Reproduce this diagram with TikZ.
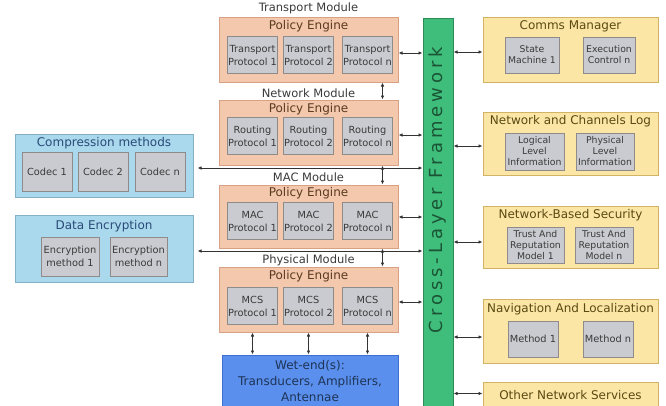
\documentclass[tikz,border=0pt]{standalone}
\usepackage{fontspec}
\setmainfont{DejaVu Sans}
\newfontfamily\clffont[LetterSpace=22]{DejaVu Sans}
\usepackage{tikz}
\usetikzlibrary{arrows.meta, positioning, calc}
\definecolor{modulefill}{HTML}{F4C8AD}
\definecolor{moduleline}{HTML}{D9A184}
\definecolor{protofill}{HTML}{CACBD0}
\definecolor{protoline}{HTML}{8E8B8A}
\definecolor{toolfill}{HTML}{AAD8EC}
\definecolor{toolline}{HTML}{84B0C8}
\definecolor{servicefill}{HTML}{FCE6A6}
\definecolor{serviceline}{HTML}{D2B265}
\definecolor{clfgreen}{HTML}{3FBE7B}
\definecolor{clfline}{HTML}{2C8C58}
\definecolor{wetblue}{HTML}{5B8FEE}
\definecolor{wetline}{HTML}{3E6ECF}
\definecolor{linkgray}{HTML}{333333}
\definecolor{labeltext}{HTML}{3A3A3A}
\definecolor{enginetext}{HTML}{5A3A20}
\definecolor{tooltext}{HTML}{2A4A78}
\definecolor{servicetext}{HTML}{5A4A12}
\tikzstyle{module} = [draw=moduleline, fill=modulefill, line width=1pt, minimum width=179pt, minimum height=65pt, inner sep=0pt]
\tikzstyle{proto} = [draw=protoline, fill=protofill, line width=1pt, minimum width=50pt, minimum height=37pt, inner sep=0pt, align=center, text=labeltext, font=\fontsize{9.8}{13}\selectfont]
\tikzstyle{toolbox} = [draw=toolline, fill=toolfill, line width=1pt, minimum width=178pt, inner sep=0pt]
\tikzstyle{service} = [draw=serviceline, fill=servicefill, line width=1pt, minimum width=175pt, inner sep=0pt]
\tikzstyle{infobox} = [draw=protoline, fill=protofill, line width=1pt, minimum height=36pt, inner sep=0pt, align=center, text=labeltext, font=\fontsize{9.3}{11}\selectfont]
\tikzstyle{biarrow} = [{Latex[length=4pt,width=3.5pt]}-{Latex[length=4pt,width=3.5pt]}, line width=0.9pt, color=linkgray]

\begin{document}
\begin{tikzpicture}[x=1pt, y=-1pt, every node/.style={font=\fontsize{12}{14}\selectfont}]
    \useasboundingbox (0,0) rectangle (666,405);

    % protocol stack
    \node[module] (tm) at (308.5,49.5) {};
    \node[text=labeltext, font=\fontsize{11.5}{13}\selectfont] (tmlabel) at (308.5,8) {Transport Module};
    \node[text=enginetext] (tmpe) at (308.5,26) {Policy Engine};
    \node[proto] (tp1) at (252.5,55) {Transport\\Protocol 1};
    \node[proto] (tp2) at (308.5,55) {Transport\\Protocol 2};
    \node[proto] (tp3) at (367.5,55) {Transport\\Protocol n};

    \node[module] (nm) at (308.5,132.5) {};
    \node[text=labeltext, font=\fontsize{11.5}{13}\selectfont] (nmlabel) at (308.5,93) {Network Module};
    \node[text=enginetext] (nmpe) at (308.5,109) {Policy Engine};
    \node[proto] (np1) at (252.5,136) {Routing\\Protocol 1};
    \node[proto] (np2) at (308.5,136) {Routing\\Protocol 2};
    \node[proto] (np3) at (367.5,136) {Routing\\Protocol n};

    \node[module, minimum height=63pt] (mm) at (308.5,216.5) {};
    \node[text=labeltext, font=\fontsize{11.5}{13}\selectfont] (mmlabel) at (308.5,177) {MAC Module};
    \node[text=enginetext] (mmpe) at (308.5,193) {Policy Engine};
    \node[proto] (mp1) at (252.5,221) {MAC\\Protocol 1};
    \node[proto] (mp2) at (308.5,221) {MAC\\Protocol 2};
    \node[proto] (mp3) at (367.5,221) {MAC\\Protocol n};

    \node[module] (pm) at (308.5,299.5) {};
    \node[text=labeltext, font=\fontsize{11.5}{13}\selectfont] (pmlabel) at (308.5,260) {Physical Module};
    \node[text=enginetext] (pmpe) at (308.5,276) {Policy Engine};
    \node[proto] (pp1) at (252.5,306) {MCS\\Protocol 1};
    \node[proto] (pp2) at (308.5,306) {MCS\\Protocol 2};
    \node[proto] (pp3) at (367.5,306) {MCS\\Protocol n};

    \node[draw=wetline, fill=wetblue, line width=1pt, minimum width=176pt, minimum height=53pt, inner sep=0pt, align=center, text=tooltext!70!black, font=\fontsize{12}{16}\selectfont] (we) at (310,381.5) {Wet-end(s):\\Transducers, Amplifiers,\\Antennae};

    % cross-layer framework
    \node[draw=clfline, fill=clfgreen, line width=1pt, minimum width=30pt, minimum height=390pt, inner sep=0pt] (clf) at (438,213) {};
    \node[rotate=90, text=clfline!60!black, font=\clffont\fontsize{18}{20}\selectfont] (clftext) at (438,190) {Cross-Layer Framework};

    % left side
    \node[toolbox, minimum height=63pt] (cmp) at (104,165.5) {};
    \node[text=tooltext] (cmptitle) at (104,143) {Compression methods};
    \node[proto, minimum height=39pt] (cd1) at (47,171.5) {Codec 1};
    \node[proto, minimum height=39pt] (cd2) at (103,171.5) {Codec 2};
    \node[proto, minimum height=39pt] (cd3) at (160,171.5) {Codec n};

    \node[toolbox, minimum height=67pt] (enc) at (104,248.5) {};
    \node[text=tooltext] (enctitle) at (104,226) {Data Encryption};
    \node[proto, minimum width=58pt, minimum height=39pt] (em1) at (70,256.5) {Encryption\\method 1};
    \node[proto, minimum width=57pt, minimum height=39pt] (em2) at (138.5,256.5) {Encryption\\method n};

    % right side
    \node[service, minimum height=65pt] (cm) at (570.5,49.5) {};
    \node[text=servicetext] (cmtitle) at (570.5,26) {Comms Manager};
    \node[infobox, minimum width=54pt] (sm) at (532,55) {State\\Machine 1};
    \node[infobox, minimum width=52pt] (ec) at (609,55) {Execution\\Control n};

    \node[service, minimum height=63pt] (ncl) at (570.5,143.5) {};
    \node[text=servicetext] (ncltitle) at (570.5,121) {Network and Channels Log};
    \node[infobox, minimum width=59pt, minimum height=37pt] (lli) at (534.5,151.5) {Logical\\Level\\Information};
    \node[infobox, minimum width=58pt, minimum height=37pt] (pli) at (605,151.5) {Physical\\Level\\Information};

    \node[service, minimum height=62pt] (nbs) at (570.5,237) {};
    \node[text=servicetext] (nbstitle) at (570.5,215) {Network-Based Security};
    \node[infobox, minimum width=57pt] (tr1) at (535.5,245) {Trust And\\Reputation\\Model 1};
    \node[infobox, minimum width=58pt] (trn) at (604,245) {Trust And\\Reputation\\Model n};

    \node[service, minimum height=64pt] (nal) at (570.5,331) {};
    \node[text=servicetext] (naltitle) at (570.5,309) {Navigation And Localization};
    \node[infobox, minimum width=50pt, font=\fontsize{9.8}{11}\selectfont] (mt1) at (533,339) {Method 1};
    \node[infobox, minimum width=50pt, font=\fontsize{9.8}{11}\selectfont] (mtn) at (608,339) {Method n};

    \node[service, minimum height=26pt, text=servicetext] (ons) at (570.5,395) {Other Network Services};

    % links
    \draw[biarrow] ([xshift=-16pt]tm.south east) -- ([xshift=-16pt]nm.north east);
    \draw[biarrow] ([xshift=-16pt]nm.south east) -- ([xshift=-16pt]mm.north east);
    \draw[biarrow] ([xshift=-16pt]mm.south east) -- ([xshift=-16pt]pm.north east);
    \draw[biarrow] ($(tm.east)+(0,3.5)$) -- ($(tm.east -| clf.west)+(0,3.5)$);
    \draw[biarrow] ($(nm.east)+(0,2.5)$) -- ($(nm.east -| clf.west)+(0,2.5)$);
    \draw[biarrow] ($(mm.east)+(0,0.5)$) -- ($(mm.east -| clf.west)+(0,0.5)$);
    \draw[biarrow] ($(pm.east)+(0,2.5)$) -- ($(pm.east -| clf.west)+(0,2.5)$);
    \draw[biarrow] (pp1.south |- pm.south) -- (pp1.south |- we.north);
    \draw[biarrow] (pp2.south |- pm.south) -- (pp2.south |- we.north);
    \draw[biarrow] (pp3.south |- pm.south) -- (pp3.south |- we.north);
    \draw[biarrow] ($(cmp.east)+(4,2.5)$) -- ($(cmp.east -| clf.west)+(0,2.5)$);
    \draw[biarrow] ($(enc.east)+(4,2.5)$) -- ($(enc.east -| clf.west)+(0,2.5)$);
    \draw[biarrow] ($(cm.west -| clf.east)+(0,2.5)$) -- ($(cm.west)+(0,2.5)$);
    \draw[biarrow] ($(ncl.west -| clf.east)+(0,2.5)$) -- ($(ncl.west)+(0,2.5)$);
    \draw[biarrow] ($(nbs.west -| clf.east)+(0,5)$) -- ($(nbs.west)+(0,5)$);
    \draw[biarrow] ($(nal.west -| clf.east)+(0,6)$) -- ($(nal.west)+(0,6)$);
    \draw[biarrow] ($(ons.west -| clf.east)+(0,-1.5)$) -- ($(ons.west)+(0,-1.5)$);
\end{tikzpicture}
\end{document}
